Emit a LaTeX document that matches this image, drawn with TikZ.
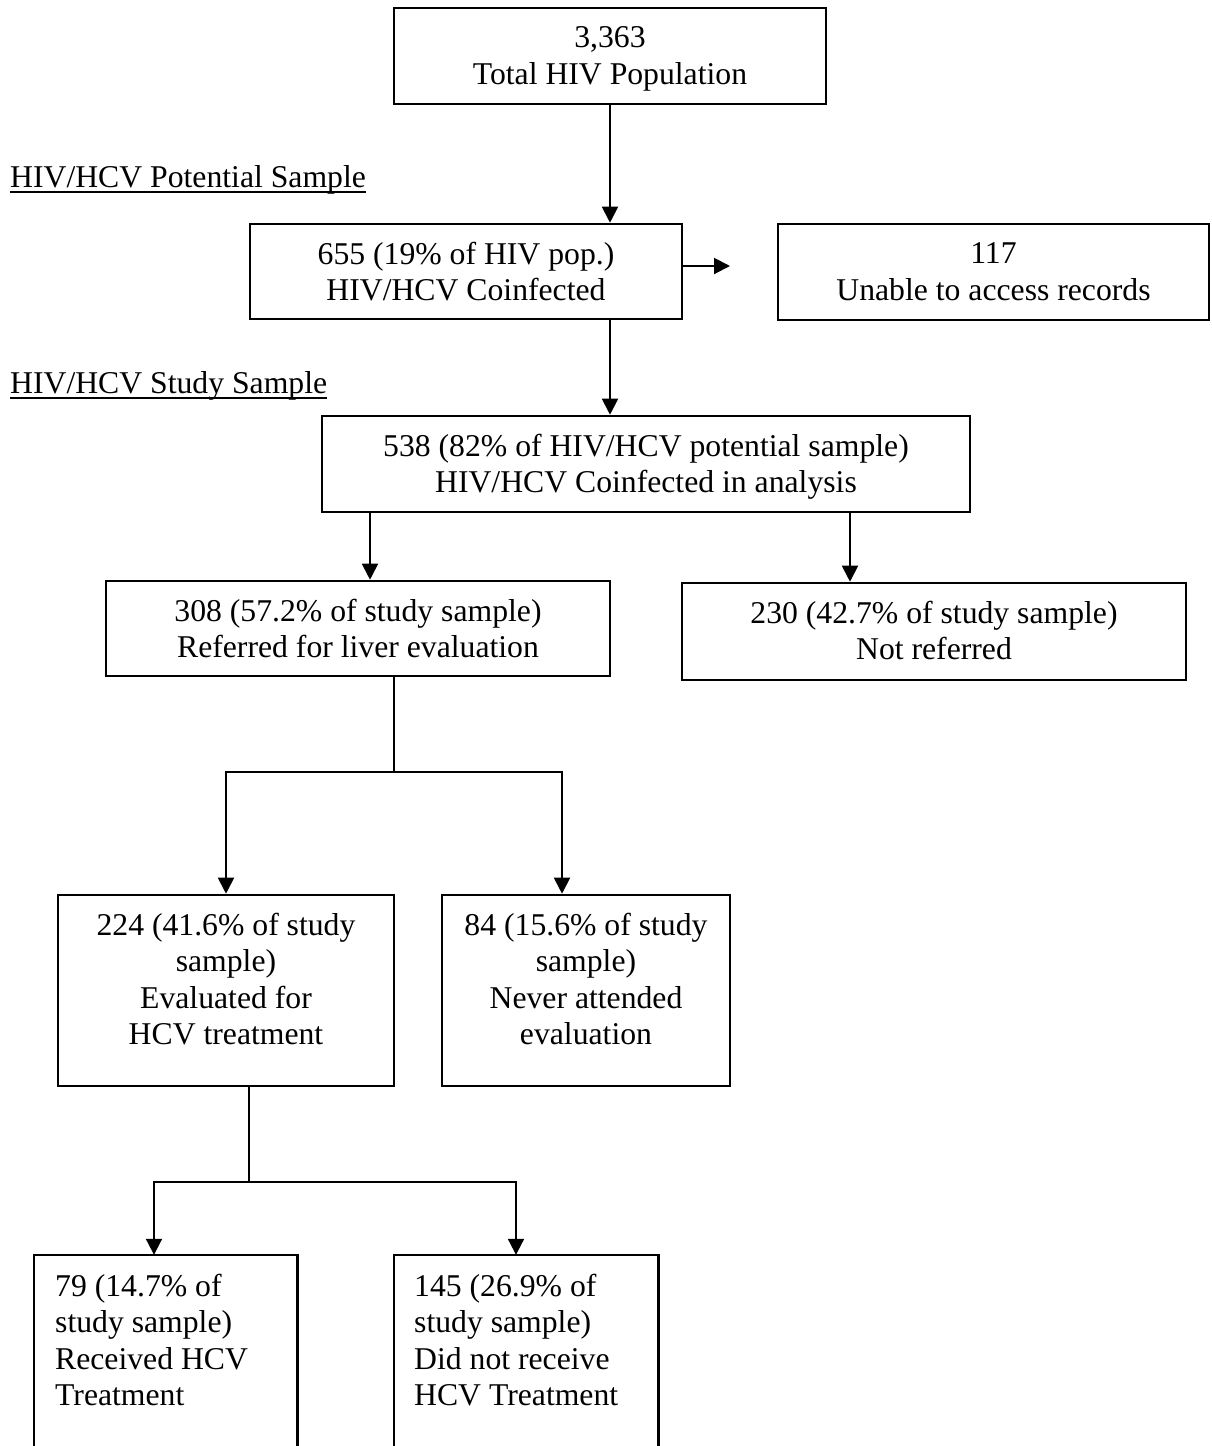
\documentclass[tikz,border=0pt]{standalone}
\usepackage{fontspec}
\setmainfont{Liberation Serif}
\usetikzlibrary{arrows.meta}
\begin{document}
\begin{tikzpicture}[x=1pt,y=-1pt,
  boxn/.style={draw=black,line width=2.6pt,inner sep=0pt,minimum width=#1},
  txt/.style={inner sep=0pt,align=center,font=\fontsize{31.7}{36.5}\selectfont},
  txtl/.style={inner sep=0pt,align=left,anchor=west,font=\fontsize{31.7}{36.5}\selectfont},
  conn/.style={line width=2pt},
  arr/.style={line width=2pt,-{Triangle[length=16pt,width=16pt]}}]
\useasboundingbox[fill=white] (0,0) rectangle (1212,1446);
% boxes
\node[boxn=432pt,minimum height=96pt] (b1) at (610,56) {};
\node[boxn=432pt,minimum height=95pt] (b2) at (466,271.5) {};
\node[boxn=431pt,minimum height=96pt] (b3) at (993.5,272) {};
\node[boxn=648pt,minimum height=96pt] (b4) at (646,464) {};
\node[boxn=504pt,minimum height=95pt] (b5) at (358,628.5) {};
\node[boxn=504pt,minimum height=97pt] (b6) at (934,631.5) {};
\node[boxn=336pt,minimum height=191pt] (b7) at (226,990.5) {};
\node[boxn=288pt,minimum height=191pt] (b8) at (586,990.5) {};
\node[inner sep=0pt,minimum width=263pt,minimum height=195pt] (b9) at (165.5,1352.5) {};
\node[inner sep=0pt,minimum width=264pt,minimum height=195pt] (b10) at (526,1352.5) {};
\draw[line width=2.6pt] (b9.south west) -- (b9.north west) -- (b9.north east) -- (b9.south east);
\draw[line width=2.6pt] (b10.south west) -- (b10.north west) -- (b10.north east) -- (b10.south east);
% texts
\node[txt] (t1) at (610,59) {3,363\\Total HIV Population};
\node[txt] (t2) at (466,271.6) {655 (19\% of HIV pop.)\\HIV/HCV Coinfected};
\node[txt] (t3) at (993.5,271.5) {117\\Unable to access records};
\node[txt] (t4) at (646,466.9) {538 (82\% of HIV/HCV potential sample)\\HIV/HCV Coinfected in analysis};
\node[txt] (t5) at (358,628.4) {308 (57.2\% of study sample)\\Referred for liver evaluation};
\node[txt] (t6) at (934,630.4) {230 (42.7\% of study sample)\\Not referred};
\node[txt] (t7) at (226,978.9) {224 (41.6\% of study\\sample)\\Evaluated for\\HCV treatment};
\node[txt] (t8) at (586,978.9) {84 (15.6\% of study\\sample)\\Never attended\\evaluation};
\node[txtl] (t9) at (55,1339.9) {79 (14.7\% of\\study sample)\\Received HCV\\Treatment};
\node[txtl] (t10) at (414,1339.9) {145 (26.9\% of\\study sample)\\Did not receive\\HCV Treatment};
% section labels
\node[inner sep=0pt,anchor=base west,font=\fontsize{31.7}{36.5}\selectfont] (l1) at (10,187) {HIV/HCV Potential Sample};
\node[inner sep=0pt,anchor=base west,font=\fontsize{31.7}{36.5}\selectfont] (l2) at (10,393) {HIV/HCV Study Sample};
\draw[line width=2pt] ([yshift=-4.5pt]l1.base west) -- ([yshift=-4.5pt]l1.base east);
\draw[line width=2pt] ([yshift=-4.5pt]l2.base west) -- ([yshift=-4.5pt]l2.base east);
% connectors
\coordinate (e3) at (730,266);
\draw[arr] (b1.south) -- (610,0 |- b2.north);
\draw[arr] (b2.east |- e3) -- (e3);
\draw[arr] (610,0 |- b2.south) -- (610,0 |- b4.north);
\draw[arr] (370,0 |- b4.south) -- (370,0 |- b5.north);
\draw[arr] (850,0 |- b4.south) -- (850,0 |- b6.north);
\coordinate (j1) at (394,772);
\draw[conn] (394,0 |- b5.south) -- (j1);
\draw[arr] (j1) -| (b7.north);
\draw[arr] (j1) -| (562,0 |- b8.north);
\coordinate (j2) at (249,1182);
\draw[conn] (249,0 |- b7.south) -- (j2);
\draw[arr] (j2) -| (154,0 |- b9.north);
\draw[arr] (j2) -| (516,0 |- b10.north);
\end{tikzpicture}
\end{document}
